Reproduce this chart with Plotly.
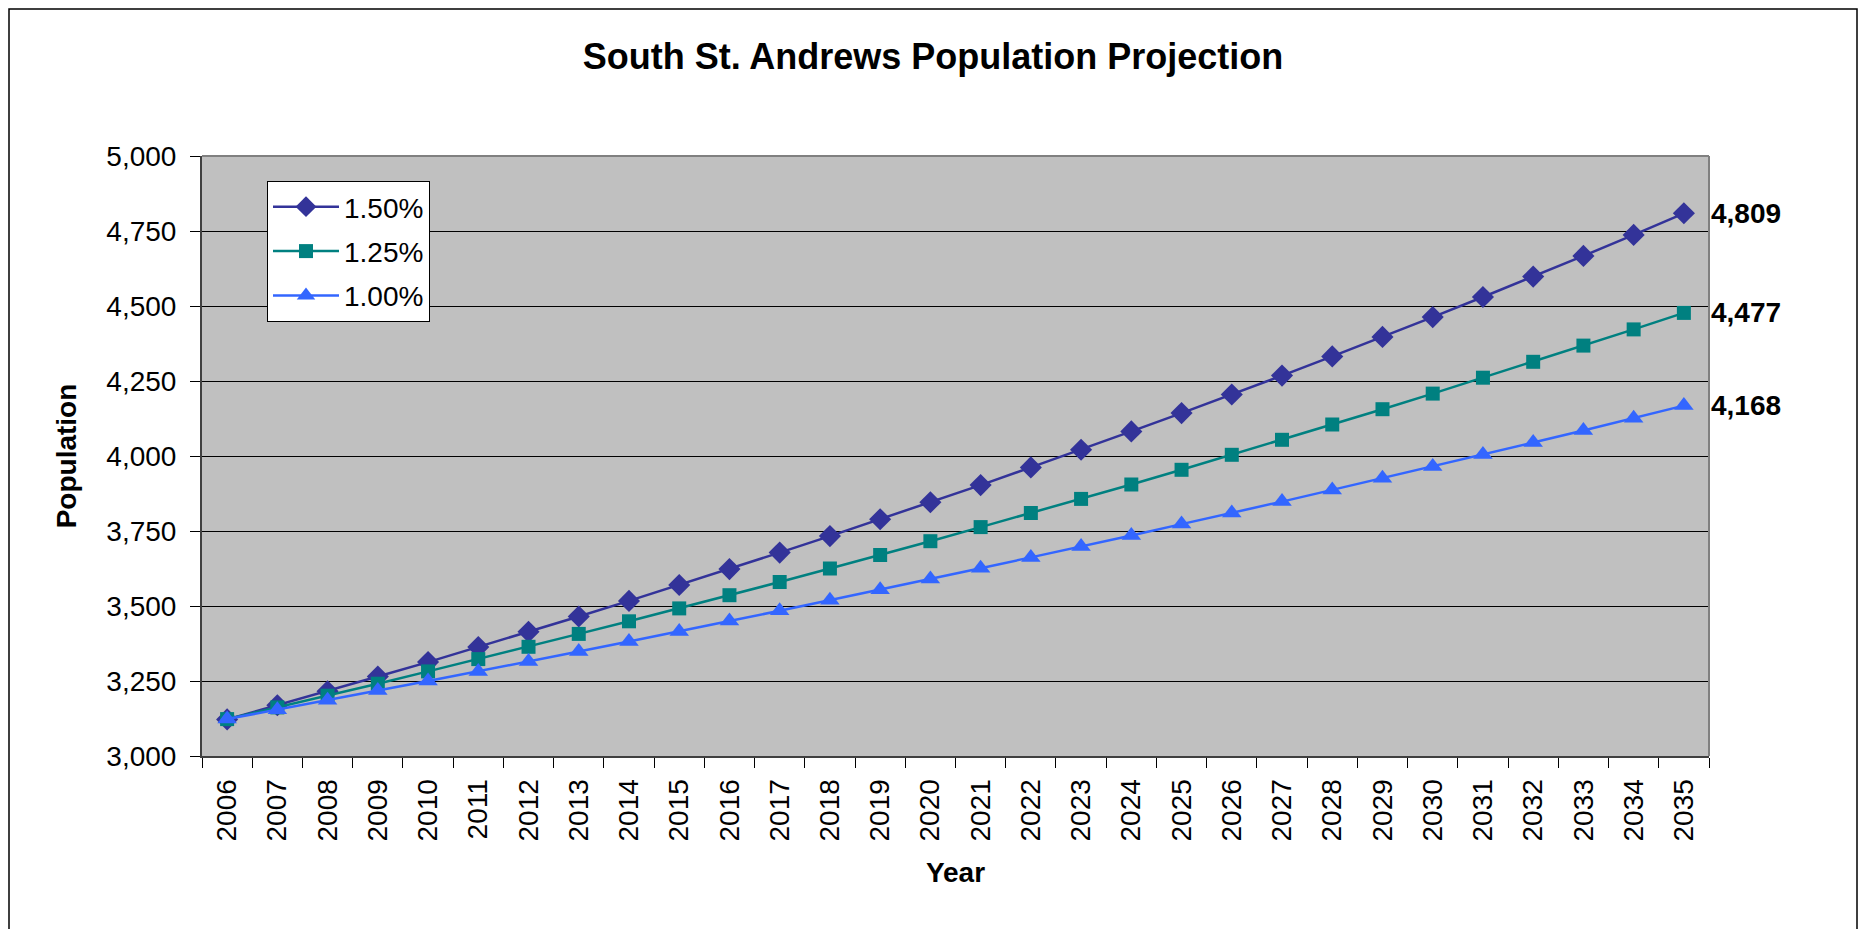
import plotly.graph_objects as go

years = [str(y) for y in range(2006, 2036)]
rate_150 = [3122, 3169, 3216, 3265, 3313, 3363, 3414, 3465, 3517, 3570,
            3623, 3678, 3733, 3789, 3846, 3903, 3962, 4021, 4082, 4143,
            4205, 4268, 4332, 4397, 4463, 4530, 4598, 4667, 4737, 4809]
rate_125 = [3123, 3162, 3201, 3241, 3282, 3323, 3364, 3407, 3449, 3492,
            3536, 3580, 3625, 3670, 3716, 3763, 3810, 3857, 3905, 3954,
            4004, 4054, 4105, 4156, 4208, 4261, 4314, 4368, 4422, 4477]
rate_100 = [3123, 3154, 3186, 3218, 3250, 3282, 3315, 3348, 3382, 3415,
            3450, 3484, 3519, 3554, 3590, 3626, 3662, 3698, 3735, 3773,
            3810, 3848, 3887, 3926, 3965, 4005, 4045, 4085, 4126, 4168]
series_names = ["1.50%", "1.25%", "1.00%"]
y_ticks = [3000, 3250, 3500, 3750, 4000, 4250, 4500, 4750, 5000]

FONT = "Liberation Sans, Arial, sans-serif"
colors = ["#333399", "#008080", "#3366FF"]
symbols = ["diamond", "square", "triangle-up"]
sizes = [17, 14, 17]

# page body has an 8px margin; figure sized to fit the 1866x937 window
W, H = 1850, 921
L, R, T, B = 194, 149, 148, 173
PW, PH = W - L - R, H - T - B

fig = go.Figure()
for name, vals, c, s, sz in zip(series_names, [rate_150, rate_125, rate_100], colors, symbols, sizes):
    fig.add_trace(go.Scatter(
        x=years, y=vals, name=name, mode="lines+markers", legendgroup=name,
        line=dict(color=c, width=2.5),
        marker=dict(symbol=s, size=sz, color=c),
    ))
    fig.add_annotation(
        x=len(years) - 1, y=vals[-1], xref="x", yref="y",
        text=f"<b>{vals[-1]:,}</b>", showarrow=False,
        xanchor="left", xshift=25, yanchor="middle",
        font=dict(family=FONT, size=28, color="black"),
    )

fig.update_layout(
    width=W, height=H,
    margin=dict(l=L, r=R, t=T, b=B, autoexpand=False),
    paper_bgcolor="white", plot_bgcolor="#C0C0C0",
    font=dict(family=FONT, size=28, color="black"),
    title=dict(text="<b>South St. Andrews Population Projection</b>",
               x=0.5, xref="container", xanchor="center",
               y=1 - 48 / H, yref="container", yanchor="middle",
               font=dict(family=FONT, size=36, color="black")),
    showlegend=True,
    legend=dict(x=65 / PW, y=1 - 25 / PH, xanchor="left", yanchor="top",
                bgcolor="white", bordercolor="black", borderwidth=1,
                font=dict(family=FONT, size=28, color="black"),
                tracegroupgap=5, itemwidth=66),
    xaxis=dict(
        type="category", tickson="boundaries", range=[-0.5, len(years) - 0.5],
        ticks="outside", ticklen=10, tickcolor="black", tickwidth=1,
        tickangle=-90, showgrid=False, ticklabelstandoff=10,
        showline=True, linecolor="#404040", linewidth=2,
        tickfont=dict(family=FONT, size=28),
        title=dict(text="<b>Year</b>", font=dict(family=FONT, size=28), standoff=22),
    ),
    yaxis=dict(
        range=[3000, 5000], tickvals=y_ticks,
        ticktext=[f"{v:,}" for v in y_ticks],
        ticks="outside", ticklen=10, tickcolor="black", tickwidth=1,
        showgrid=True, gridcolor="black", gridwidth=1, ticklabelstandoff=8,
        showline=True, linecolor="#404040", linewidth=2,
        zeroline=False,
        tickfont=dict(family=FONT, size=28),
        title=dict(text="<b>Population</b>", font=dict(family=FONT, size=28), standoff=22),
    ),
)

# plot area frame (top and right edges gray)
fig.add_shape(type="line", xref="paper", yref="paper", x0=0, x1=1, y0=1, y1=1,
              line=dict(color="#808080", width=2), layer="above")
fig.add_shape(type="line", xref="paper", yref="paper", x0=1, x1=1, y0=0, y1=1,
              line=dict(color="#808080", width=2), layer="above")
# outer chart border
fig.add_shape(type="rect", xref="paper", yref="paper",
              x0=(1 - L) / PW, x1=(W - 1 - L) / PW,
              y0=(T + PH - (H + 20)) / PH, y1=(T + PH - 1) / PH,
              line=dict(color="black", width=1.5), fillcolor="rgba(0,0,0,0)")

fig.write_html("out.html")
